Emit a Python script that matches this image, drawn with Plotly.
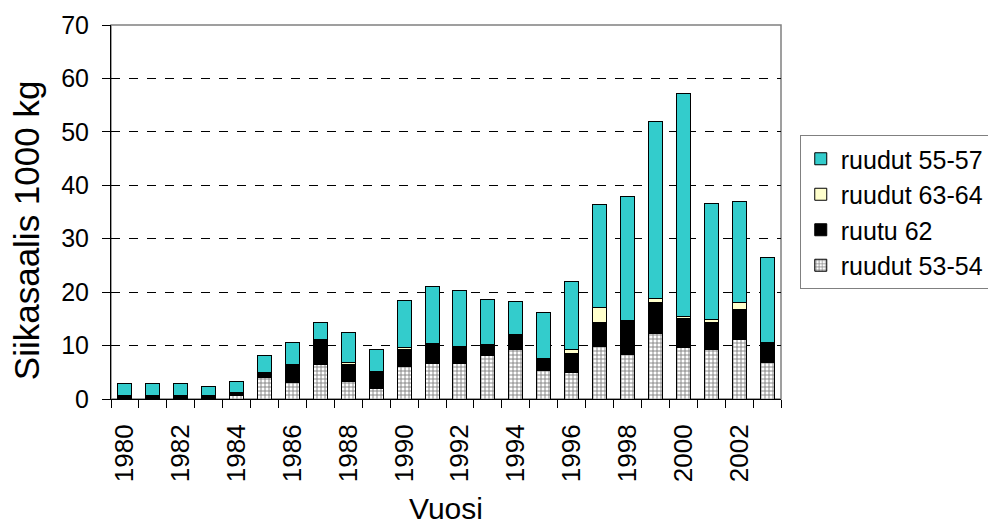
import plotly.graph_objects as go

years = list(range(1980, 2004))
# 1000 kg, stacked bottom -> top
ruudut_53_54 = [None, None, None, None, 0.7, 4.1, 3.0, 6.5, 3.3, 2.0, 6.0, 6.6,
                6.6, 8.2, 9.2, 5.25, 4.9, 9.75, 8.4, 12.2, 9.6, 9.25, 11.2, 6.8]
ruutu_62 = [0.6, 0.6, 0.6, 0.6, 0.6, 0.9, 3.4, 4.6, 3.2, 3.1, 3.3, 3.8,
            3.3, 2.05, 2.9, 2.3, 3.7, 4.65, 6.35, 5.8, 5.5, 5.05, 5.5, 3.7]
ruudut_63_64 = [None, None, None, None, None, None, None, None, 0.3, None, 0.4, None,
                None, None, None, None, 0.6, 2.7, None, 0.75, 0.4, 0.5, 1.3, None]
ruudut_55_57 = [2.3, 2.3, 2.3, 1.75, 1.9, 3.2, 4.2, 3.2, 5.7, 4.2, 8.8, 10.6,
                10.4, 8.45, 6.1, 8.55, 12.7, 19.3, 23.15, 33.15, 41.75, 21.8, 18.9, 15.9]

font = "Liberation Sans, Arial, sans-serif"
outline = dict(color="black", width=1)

fig = go.Figure()
fig.add_bar(x=years, y=ruudut_53_54, name="ruudut 53-54",
            marker=dict(color="white", line=outline,
                        pattern=dict(shape="+", fgcolor="black", bgcolor="white",
                                     size=4, solidity=0.4)))
fig.add_bar(x=years, y=ruutu_62, name="ruutu 62",
            marker=dict(color="black", line=outline))
fig.add_bar(x=years, y=ruudut_63_64, name="ruudut 63-64",
            marker=dict(color="#FFFFCC", line=outline))
fig.add_bar(x=years, y=ruudut_55_57, name="ruudut 55-57",
            marker=dict(color="#33CCCC", line=outline))

boundaries = [y - 0.5 for y in years] + [years[-1] + 0.5]

# page body has an 8px margin, so margins are shifted by that
fig.update_layout(
    barmode="stack", bargap=0.5,
    width=996, height=527,
    margin=dict(l=103, r=223, t=17, b=136, autoexpand=False),
    paper_bgcolor="white", plot_bgcolor="white",
    font=dict(family=font, size=25, color="black"),
    legend=dict(x=1.028, y=0.5, xanchor="left", yanchor="middle",
                traceorder="reversed", bordercolor="#808080", borderwidth=1,
                font=dict(size=25)),
    xaxis=dict(range=[years[0] - 0.5, years[-1] + 0.5],
               tickvals=years[::2], ticktext=[str(y) for y in years[::2]],
               tickangle=-90, ticks="", ticklabelstandoff=14,
               tickfont=dict(size=26),
               showline=True, linecolor="black", linewidth=1,
               showgrid=False, zeroline=False,
               minor=dict(tickvals=boundaries, ticks="outside", ticklen=8,
                          tickcolor="black", showgrid=False),
               title=dict(text="Vuosi", font=dict(size=30), standoff=16)),
    yaxis=dict(range=[0, 70], dtick=10, ticks="outside", ticklen=8,
               tickcolor="black", ticklabelstandoff=8,
               showline=True, linecolor="black", linewidth=1,
               showgrid=True, gridcolor="black", griddash="dash", gridwidth=1,
               zeroline=False),
    annotations=[dict(text="Siikasaalis 1000 kg", textangle=-90,
                      xref="paper", yref="paper", x=-0.125, y=0.452,
                      xanchor="center", yanchor="middle", showarrow=False,
                      font=dict(size=35))],
    shapes=[dict(type="rect", xref="paper", yref="paper", x0=0, y0=0, x1=1, y1=1,
                 line=dict(color="#808080", width=1.5), layer="below")],
)

fig.write_html("out.html")
